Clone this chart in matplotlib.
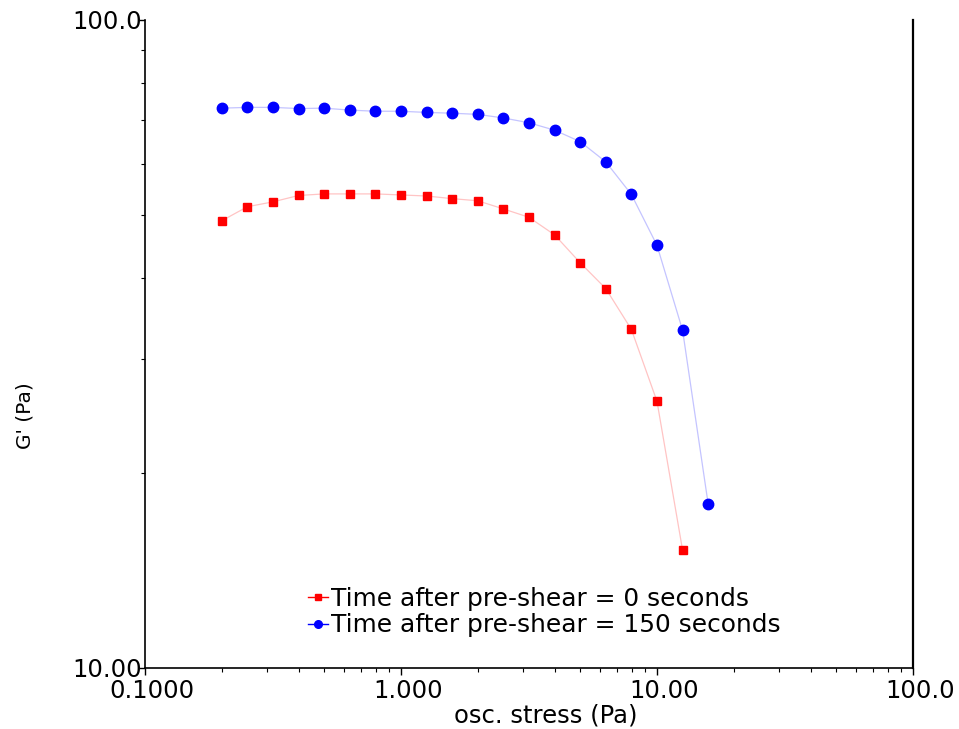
import numpy as np
import matplotlib.pyplot as plt
from matplotlib.lines import Line2D
from matplotlib.ticker import FixedLocator, LogLocator, NullFormatter
from matplotlib.transforms import ScaledTranslation

# osc. stress (Pa), 10 points per decade
stress = [0.1995, 0.2512, 0.3162, 0.3981, 0.5012, 0.6310, 0.7943, 1.000, 1.259, 1.585,
          1.995, 2.512, 3.162, 3.981, 5.012, 6.310, 7.943, 10.00, 12.59, 15.85]

# G' (Pa)
g_0s = [49.0, 51.5, 52.4, 53.6, 53.9, 53.9, 53.9, 53.7, 53.5, 53.0,
        52.6, 51.1, 49.6, 46.6, 42.2, 38.5, 33.3, 25.8, 15.2]
g_150s = [73.1, 73.3, 73.3, 73.0, 73.1, 72.6, 72.3, 72.3, 72.0, 71.8,
          71.5, 70.6, 69.4, 67.6, 64.9, 60.4, 53.8, 44.9, 33.2, 17.9]

labels = ["Time after pre-shear = 0 seconds", "Time after pre-shear = 150 seconds"]
xticks = [0.1, 1, 10, 100]
xticklabels = ["0.1000", "1.000", "10.00", "100.0"]
yticks = [10, 100]
yticklabels = ["10.00", "100.0"]

plt.rcParams['font.family'] = ['DejaVu Sans']
fs = 17.5

fig = plt.figure(figsize=(9.59, 7.29), dpi=100)
ax = fig.add_axes([0.1512, 0.0837, 0.9520 - 0.1512, 0.9726 - 0.0837])

ax.plot(stress[:len(g_0s)], g_0s, color="#ffc4c4", lw=0.9, marker="s", ms=6,
        mfc="#ff0000", mec="#ff0000", zorder=3)
ax.plot(stress, g_150s, color="#c4c4ff", lw=0.9, marker="o", ms=7.5,
        mfc="#0000ff", mec="#0000ff", zorder=3)

ax.set_xscale("log")
ax.set_yscale("log")
ax.set_xlim(0.1, 100)
ax.set_ylim(10, 100)

ax.xaxis.set_major_locator(FixedLocator(xticks))
ax.set_xticklabels(xticklabels, fontsize=fs)
ax.yaxis.set_major_locator(FixedLocator(yticks))
ax.set_yticklabels(yticklabels, fontsize=fs)
ax.xaxis.set_minor_locator(LogLocator(base=10, subs=np.arange(2, 10)))
ax.yaxis.set_minor_locator(LogLocator(base=10, subs=np.arange(2, 10)))
ax.xaxis.set_minor_formatter(NullFormatter())
ax.yaxis.set_minor_formatter(NullFormatter())

ax.tick_params(axis="x", which="major", length=5, width=1, pad=3, direction="out")
ax.tick_params(axis="x", which="minor", length=3, width=0.8, direction="out")
ax.tick_params(axis="y", which="major", length=4, width=1, pad=-2, direction="out")
ax.tick_params(axis="y", which="minor", length=3, width=0.8, direction="out")

# x tick labels sit a little to the right of their ticks in the original
shift = ScaledTranslation(7 / 100, 0, fig.dpi_scale_trans)
for lab in ax.get_xticklabels():
    lab.set_transform(lab.get_transform() + shift)

ax.spines["top"].set_visible(False)
for s in ["left", "bottom"]:
    ax.spines[s].set_linewidth(1.2)
ax.spines["right"].set_linewidth(1.6)

ax.set_xlabel("osc. stress (Pa)", fontsize=fs, labelpad=0)
ax.xaxis.set_label_coords(0.522, -0.055)
fig.text(0.026, 0.43, "G' (Pa)", rotation=90, fontsize=14.5, ha="center", va="center")

handles = [
    Line2D([], [], color="#ff0000", lw=1, marker="s", ms=5),
    Line2D([], [], color="#0000ff", lw=1, marker="o", ms=5.5),
]
ax.legend(handles, labels, loc="upper left", bbox_to_anchor=(0.321, 0.195),
          bbox_transform=fig.transFigure, frameon=False, fontsize=17.9,
          handlelength=0.8, handletextpad=0.15, labelspacing=0.1,
          borderpad=0, borderaxespad=0)

fig.savefig("out.png", dpi=100)
